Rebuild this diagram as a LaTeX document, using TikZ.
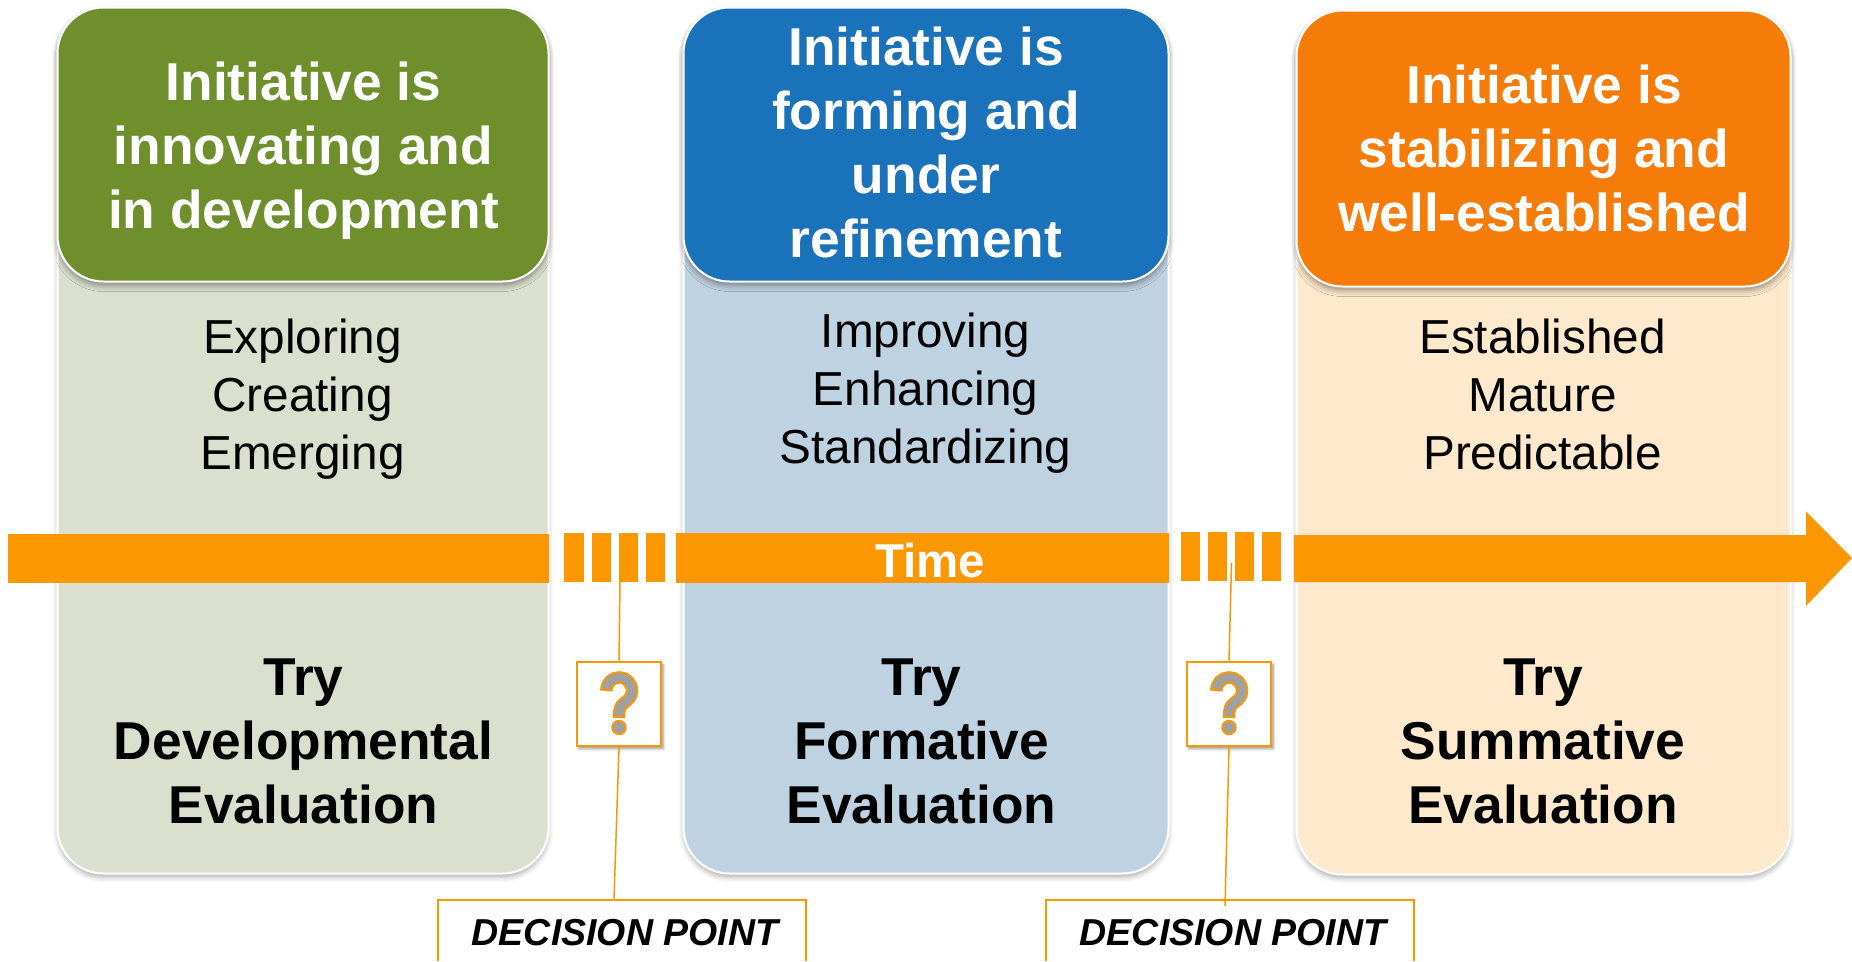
\documentclass[tikz,border=0pt]{standalone}
\usepackage{fontspec}
\setmainfont{Liberation Sans}
\usetikzlibrary{shadows,shadows.blur}
\definecolor{grn}{HTML}{6F8E2C}
\definecolor{grnl}{HTML}{DADFCE}
\definecolor{blu}{HTML}{1A72BB}
\definecolor{blul}{HTML}{BFD2E1}
\definecolor{org}{HTML}{F57C09}
\definecolor{orgl}{HTML}{FEE9CC}
\definecolor{arr}{HTML}{FB9700}
\definecolor{qgray}{HTML}{A0A0A0}
\newcommand{\qicon}[1]{%
  \begin{scope}[shift={(#1,0)}]
    \def\qpath{(-12.7,691) .. controls (-12.7,683) and (-7,677.5) .. (0,677.5) .. controls (7.5,677.5) and (13,683) .. (13,691) .. controls (13,697) and (9,700) .. (5,703) .. controls (1,706) and (0,709) .. (0,718)}
    \draw[line width=12.5pt,arr] \qpath;
    \draw[line width=8.5pt,qgray,shorten >=2pt,shorten <=2pt] \qpath;
    \fill[qgray,draw=arr,line width=2pt] (0,727.5) circle (6.7pt);
  \end{scope}}
\tikzset{
  x=1pt,y=-1pt,
  panel/.style={anchor=north west,inner sep=0pt,outer sep=0pt,rounded corners=46pt,draw=white,line width=2pt,
    blur shadow={shadow xshift=0pt,shadow yshift=-4pt,shadow blur radius=5pt,shadow opacity=30}},
  headbox/.style={anchor=north west,inner sep=0pt,outer sep=0pt,rounded corners=46pt,draw=white,line width=2pt,
    blur shadow={shadow xshift=0pt,shadow yshift=-4pt,shadow blur radius=6pt,shadow opacity=40}},
  headtext/.style={text=white,align=center,inner sep=0pt,font=\fontsize{53.3}{64}\selectfont\bfseries},
  bodytext/.style={align=center,inner sep=0pt,font=\fontsize{47.7}{58}\selectfont},
  trytext/.style={align=center,inner sep=0pt,font=\fontsize{53.3}{64}\selectfont\bfseries},
  bar/.style={fill=arr,inner sep=0pt,outer sep=0pt,anchor=north west},
  qbox/.style={draw=arr,line width=2pt,fill=white,minimum size=84pt,inner sep=0pt,
    blur shadow={shadow xshift=2pt,shadow yshift=-3pt,shadow blur radius=3pt,shadow opacity=45}},
  dtext/.style={inner sep=0pt,font=\fontsize{37.5}{45}\selectfont\bfseries\itshape},
  link/.style={draw=arr,line width=1.5pt},
  dframe/.style={draw=arr,line width=2pt},
}
\begin{document}
\begin{tikzpicture}
\useasboundingbox (0,0) rectangle (1852,961);
% panels
\node[panel,fill=grnl,minimum width=491pt,minimum height=866pt] (p1) at (57.5,7.5) {};
\node[panel,fill=blul,minimum width=485pt,minimum height=866pt] (p2) at (683.5,7.5) {};
\node[panel,fill=orgl,minimum width=494pt,minimum height=864pt] (p3) at (1296.5,10.5) {};
\node[headbox,fill=grn,minimum width=491pt,minimum height=274pt] (h1) at (57.5,7.5) {};
\node[headbox,fill=blu,minimum width=485pt,minimum height=274pt] (h2) at (683.5,7.5) {};
\node[headbox,fill=org,minimum width=494pt,minimum height=276pt] (h3) at (1296.5,10.5) {};
\node[headtext] (ht1) at (303.5,150.5) {Initiative is\\innovating and\\in development};
\node[headtext] (ht2) at (926,142) {Initiative is\\forming and\\under\\refinement};
\node[headtext] (ht3) at (1544,148) {Initiative is\\stabilizing and\\well-established};
% arrow
\node[bar,minimum width=541pt,minimum height=49pt] (s1) at (8,533.5) {};
\node[bar,minimum width=20pt,minimum height=49pt] (d11) at (564,533) {};
\node[bar,minimum width=19pt,minimum height=49pt] (d12) at (592,533) {};
\node[bar,minimum width=19pt,minimum height=49pt] (d13) at (619,533) {};
\node[bar,minimum width=19pt,minimum height=49pt] (d14) at (646,533) {};
\node[bar,minimum width=493pt,minimum height=50pt] (s2) at (676,533) {};
\node[bar,minimum width=19pt,minimum height=49pt] (d21) at (1181,532) {};
\node[bar,minimum width=19pt,minimum height=49pt] (d22) at (1208,532) {};
\node[bar,minimum width=19pt,minimum height=49pt] (d23) at (1235,532) {};
\node[bar,minimum width=19pt,minimum height=49pt] (d24) at (1262,532) {};
\fill[arr] (1294,535) -- (1806,535) -- (1806,511.5) -- (1852,558) -- (1806,606) -- (1806,582) -- (1294,582) -- cycle;
\node[text=white,inner sep=0pt,font=\fontsize{47.5}{56}\selectfont\bfseries] (time) at (930,560.5) {Time};
% body
\node[bodytext] (b1) at (302.5,398.7) {Exploring\\Creating\\Emerging};
\node[bodytext] (b2) at (925.5,393.2) {Improving\\Enhancing\\Standardizing};
\node[bodytext] (b3) at (1542.5,394.2) {Established\\Mature\\Predictable};
\node[trytext] (t1) at (303.5,741.2) {Try\\Developmental\\Evaluation};
\node[trytext] (t2) at (921.5,741.2) {Try\\Formative\\Evaluation};
\node[trytext] (t3) at (1543,741.2) {Try\\Summative\\Evaluation};
% decision points
\coordinate (top1) at (620,582);
\coordinate (top2) at (1231.5,563);
\coordinate (foot1) at (614,899);
\coordinate (foot2) at (1225,906);
\node[qbox] (q1) at (619,703.5) {};
\node[qbox] (q2) at (1229,703.5) {};
\qicon{619}
\qicon{1229}
\draw[link] (top1) -- (q1.north);
\draw[link] (q1.south) -- (foot1);
\draw[link] (top2) -- (q2.north);
\draw[link] (q2.south) -- (foot2);
\coordinate (f1a) at (437.5,961);\coordinate (f1b) at (437.5,899.5);\coordinate (f1c) at (805.5,899.5);\coordinate (f1d) at (805.5,961);
\coordinate (f2a) at (1046,961);\coordinate (f2b) at (1046,899.5);\coordinate (f2c) at (1414,899.5);\coordinate (f2d) at (1414,961);
\draw[dframe] (f1a) -- (f1b) -- (f1c) -- (f1d);
\draw[dframe] (f2a) -- (f2b) -- (f2c) -- (f2d);
\node[dtext] (dp1) at (625,933) {DECISION POINT};
\node[dtext] (dp2) at (1233,933) {DECISION POINT};
\end{tikzpicture}
\end{document}
